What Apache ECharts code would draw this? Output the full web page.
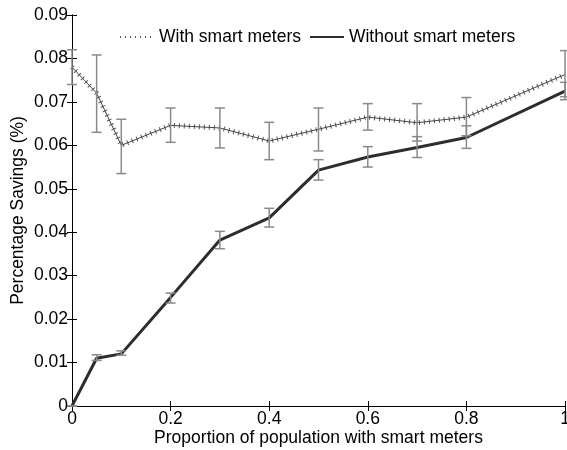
<!DOCTYPE html>
<html><head><meta charset="utf-8">
<script src="https://cdn.jsdelivr.net/npm/echarts@6/dist/echarts.min.js"></script>
<style>html,body{margin:0;padding:0;background:#fff}#c{width:567px;height:450px}</style>
</head><body><div id="c"></div>
<script>
var proportions = [0, 0.05, 0.1, 0.2, 0.3, 0.4, 0.5, 0.6, 0.7, 0.8, 1.0];
var withMeters = [0.0780, 0.0720, 0.0600, 0.0646, 0.0640, 0.0610, 0.0637, 0.0665, 0.0652, 0.0665, 0.0763];
var withLow    = [0.0740, 0.0630, 0.0535, 0.0607, 0.0594, 0.0567, 0.0587, 0.0635, 0.0610, 0.0622, 0.0712];
var withHigh   = [0.0820, 0.0808, 0.0660, 0.0686, 0.0686, 0.0653, 0.0686, 0.0696, 0.0696, 0.0710, 0.0818];
var withoutMeters = [0.0000, 0.0110, 0.0120, 0.0250, 0.0382, 0.0433, 0.0543, 0.0573, 0.0595, 0.0618, 0.0725];
var withoutLow    = [0.0000, 0.0105, 0.0117, 0.0237, 0.0362, 0.0412, 0.0520, 0.0550, 0.0572, 0.0593, 0.0705];
var withoutHigh   = [0.0000, 0.0118, 0.0127, 0.0260, 0.0402, 0.0455, 0.0567, 0.0597, 0.0620, 0.0645, 0.0745];
var xTicks = [0, 0.2, 0.4, 0.6, 0.8, 1];
var yTicks = [0, 0.01, 0.02, 0.03, 0.04, 0.05, 0.06, 0.07, 0.08, 0.09];

function pairs(xs, ys){ return xs.map(function(x,i){ return [x, ys[i]]; }); }
function bars(xs, lo, hi){ return xs.map(function(x,i){ return [x, lo[i], hi[i]]; }); }

function errRender(params, api){
  var x = api.value(0), lo = api.value(1), hi = api.value(2);
  var pLo = api.coord([x, lo]), pHi = api.coord([x, hi]);
  var hw = 5;
  var st = {stroke:'#8a8a8a', lineWidth:1.5};
  return {type:'group', children:[
    {type:'line', shape:{x1:pLo[0],y1:pLo[1],x2:pHi[0],y2:pHi[1]}, style:st},
    {type:'line', shape:{x1:pLo[0]-hw,y1:pLo[1],x2:pLo[0]+hw,y2:pLo[1]}, style:st},
    {type:'line', shape:{x1:pHi[0]-hw,y1:pHi[1],x2:pHi[0]+hw,y2:pHi[1]}, style:st}
  ]};
}

var font = 'Liberation Sans, Arial, sans-serif';
var fs = 17.5;
var chart = echarts.init(document.getElementById('c'));
var axLine = {show:true, lineStyle:{color:'#000', width:1}};
var tick = {show:true, inside:true, length:5, lineStyle:{color:'#000'}};
chart.setOption({
  animation:false,
  backgroundColor:'#fff',
  grid:{left:72, right:2, top:15, bottom:44, show:false, containLabel:false, outerBoundsMode:'none'},
  legend:{
    top:23, left:114, itemWidth:34, itemHeight:10, itemGap:8,
    itemStyle:{opacity:0},
    textStyle:{fontFamily:font, fontSize:fs, color:'#000'},
    data:['With smart meters','Without smart meters']
  },
  xAxis:[{
    type:'value', min:0, max:1, interval:0.2, position:'bottom',
    axisLine:axLine, axisTick:tick, splitLine:{show:false},
    axisLabel:{fontFamily:font, fontSize:fs, color:'#000', margin:4,
      formatter:function(v){ return String(+v.toFixed(1)); }},
    name:'Proportion of population with smart meters', nameLocation:'middle', nameGap:23,
    nameMoveOverlap:false,
    nameTextStyle:{fontFamily:font, fontSize:fs, color:'#000'}
  },{
    type:'value', min:0, max:1, interval:0.2, position:'top',
    axisLine:axLine, axisTick:tick, axisLabel:{show:false}, splitLine:{show:false}
  }],
  yAxis:[{
    type:'value', min:0, max:0.09, interval:0.01, position:'left',
    axisLine:axLine, axisTick:tick, splitLine:{show:false},
    axisLabel:{fontFamily:font, fontSize:fs, color:'#000', margin:4,
      formatter:function(v){ return String(+v.toFixed(2)); }},
    name:'Percentage Savings (%)', nameLocation:'middle', nameGap:45,
    nameMoveOverlap:false,
    nameTextStyle:{fontFamily:font, fontSize:fs, color:'#000'}
  },{
    type:'value', min:0, max:0.09, interval:0.01, position:'right',
    axisLine:axLine, axisTick:tick, axisLabel:{show:false}, splitLine:{show:false}
  }],
  series:[
    {type:'custom', name:'errWith', renderItem:errRender, data:bars(proportions, withLow, withHigh), z:5, silent:true},
    {type:'custom', name:'errWithout', renderItem:errRender, data:bars(proportions, withoutLow, withoutHigh), z:5, silent:true},
    {type:'line', name:'With smart meters', data:pairs(proportions, withMeters), showSymbol:false, symbol:'none',
      lineStyle:{color:'#555', width:5, type:[1,4]}, itemStyle:{color:'#555'}, z:3},
    {type:'line', name:'With smart meters', data:pairs(proportions, withMeters), showSymbol:false, symbol:'none',
      lineStyle:{color:'#444', width:1}, itemStyle:{color:'#444'}, z:3},
    {type:'line', name:'Without smart meters', data:pairs(proportions, withoutMeters), showSymbol:false, symbol:'none',
      lineStyle:{color:'#2d2d2d', width:3}, itemStyle:{color:'#2d2d2d'}, z:4}
  ]
});
</script></body></html>
